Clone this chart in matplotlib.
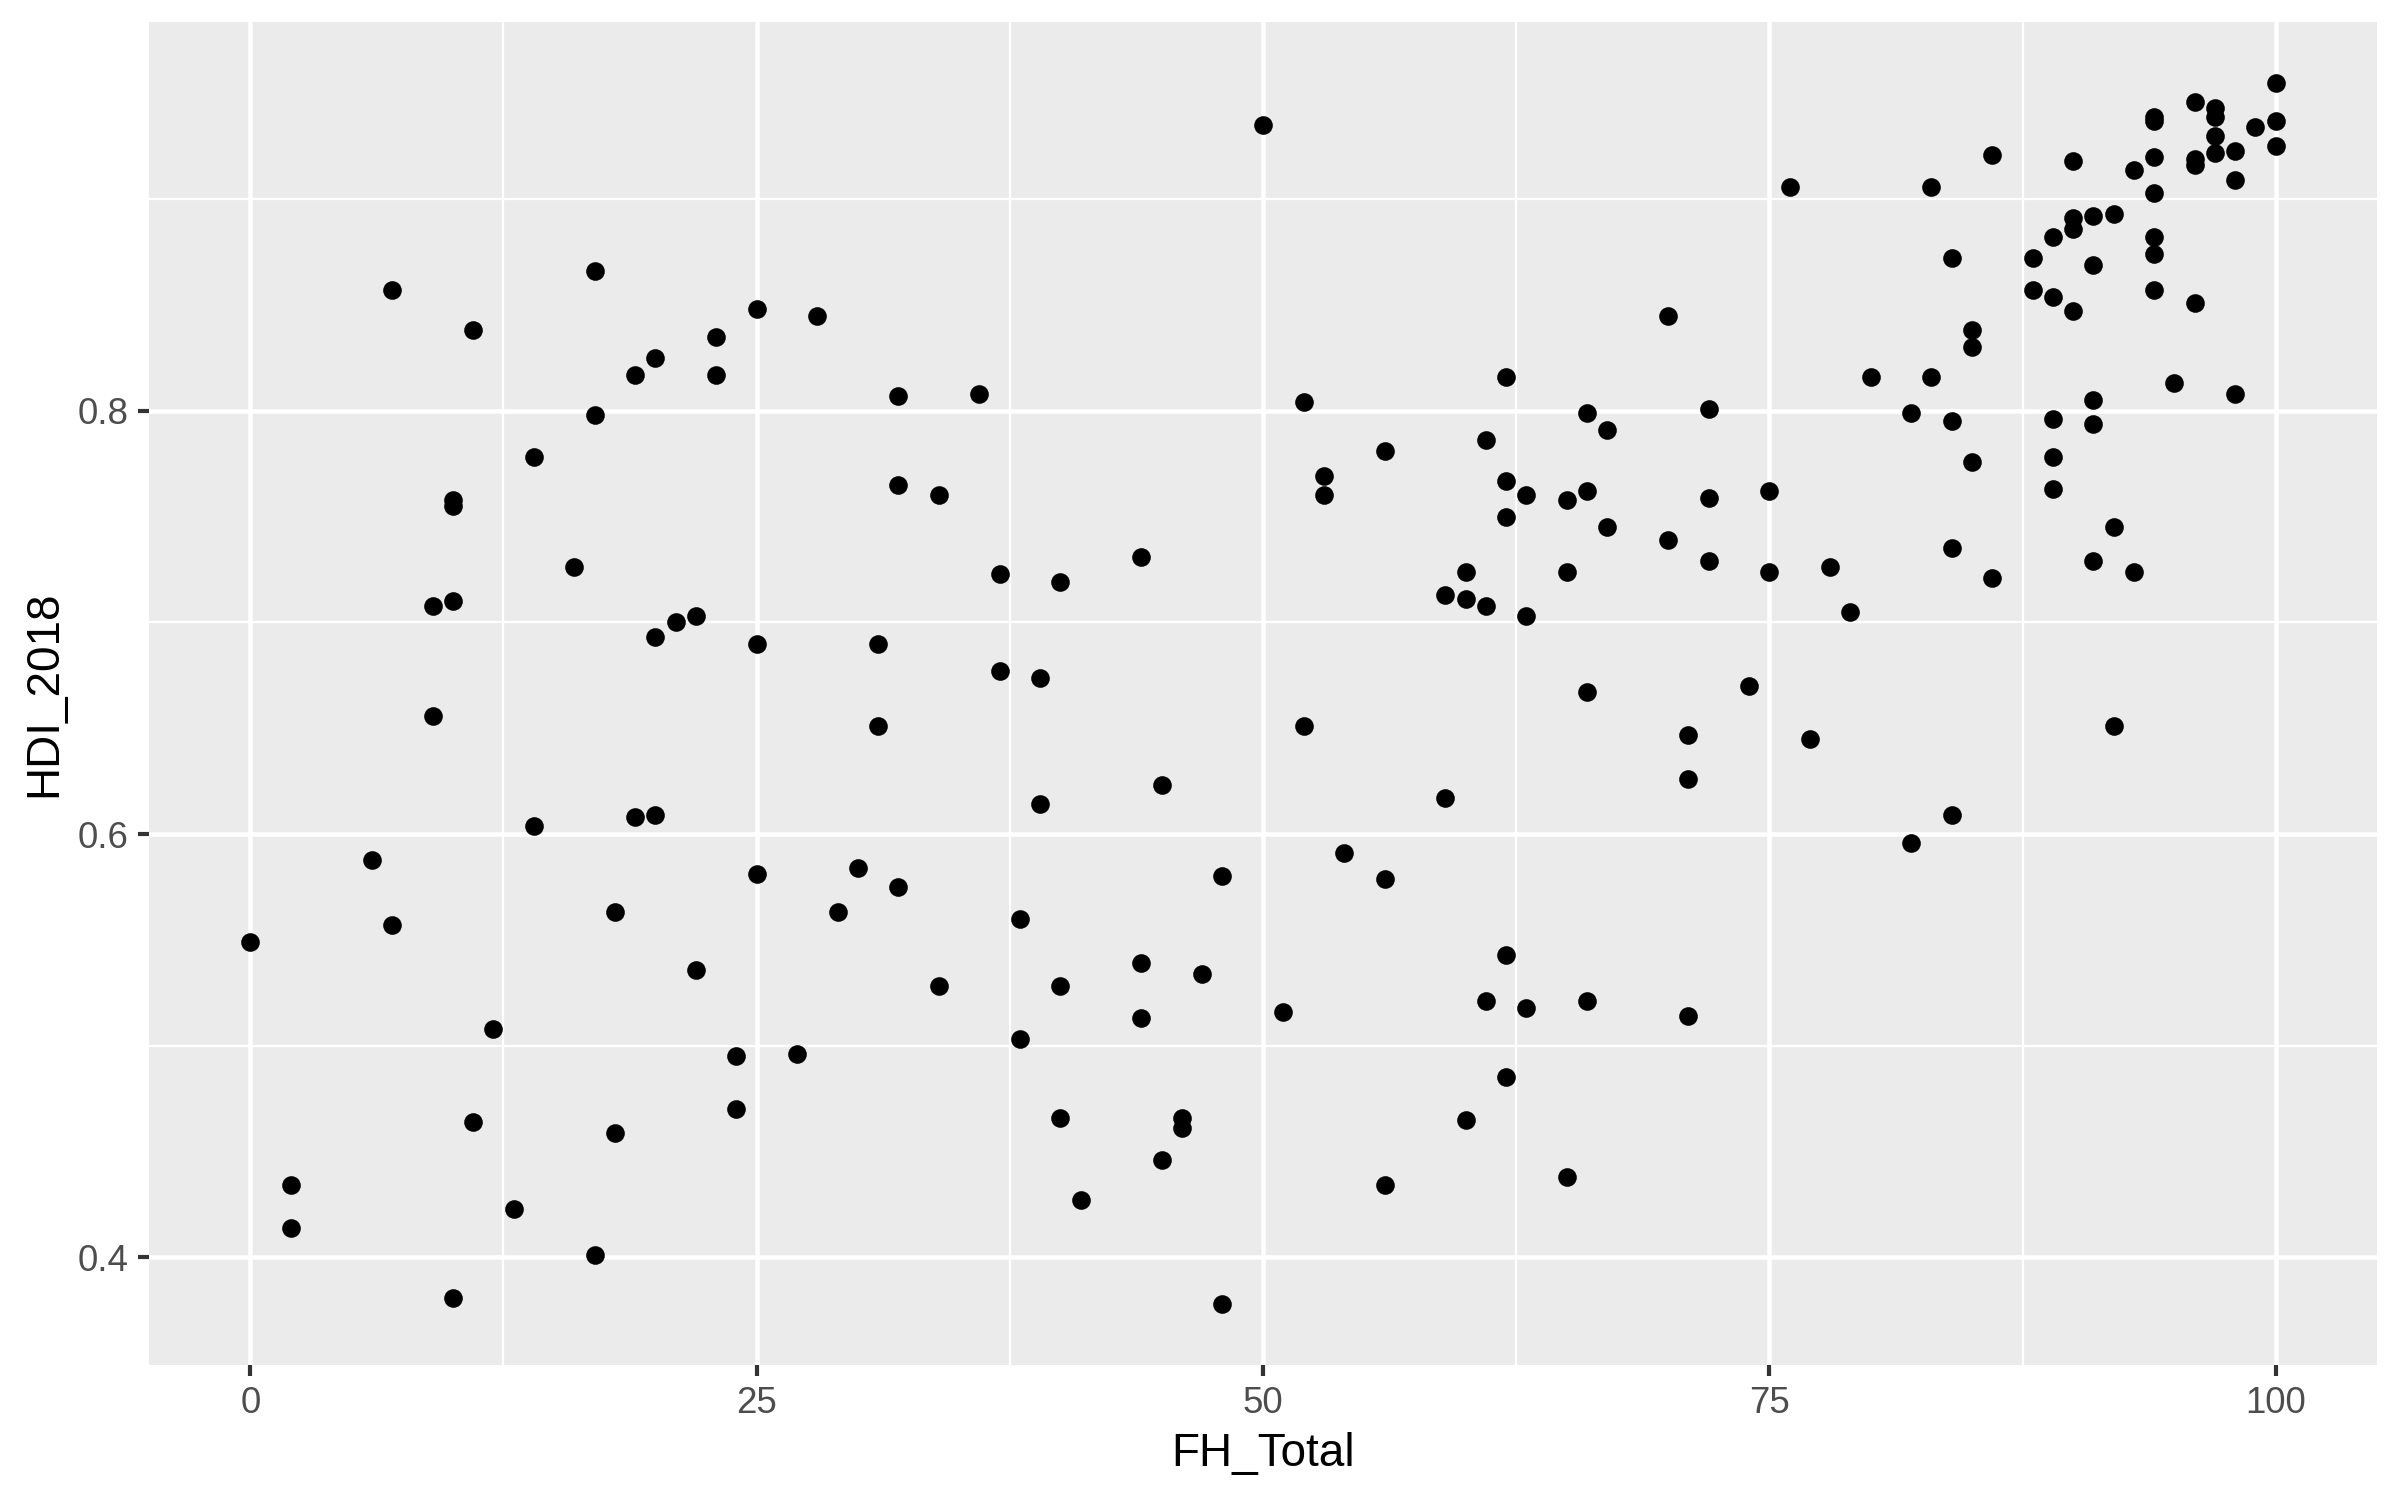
import numpy as np
import matplotlib.pyplot as plt

plt.rcParams['font.family'] = ['Liberation Sans', 'DejaVu Sans']

# FH_Total vs HDI_2018
fh_total = [0, 2, 2, 6, 7, 7, 9, 9, 10, 10, 10, 10, 11, 11, 12, 13, 14, 14, 16,
            17, 17, 17, 18, 18, 19, 19, 20, 20, 20, 21, 22, 22, 23, 23, 24, 24,
            25, 25, 25, 27, 28, 29, 30, 31, 31, 32, 32, 32, 34, 34, 36, 37, 37,
            38, 38, 39, 39, 40, 40, 40, 41, 44, 44, 44, 45, 45, 46, 46, 47, 48,
            48, 50, 51, 52, 52, 53, 53, 54, 56, 56, 56, 59, 59, 60, 60, 60, 61,
            61, 61, 62, 62, 62, 62, 62, 63, 63, 63, 65, 65, 65, 66, 66, 66, 66,
            67, 67, 70, 70, 71, 71, 71, 72, 72, 72, 74, 75, 75, 76, 77, 78, 79,
            80, 82, 82, 83, 83, 84, 84, 84, 84, 85, 85, 85, 86, 86, 88, 88, 89,
            89, 89, 89, 89, 90, 90, 90, 90, 91, 91, 91, 91, 91, 92, 92, 92, 93,
            93, 94, 94, 94, 94, 94, 94, 94, 95, 96, 96, 96, 96, 97, 97, 97, 97,
            98, 98, 98, 99, 100, 100, 100]
hdi_2018 = [0.549, 0.434, 0.414, 0.588, 0.857, 0.557, 0.708, 0.656, 0.758,
            0.755, 0.710, 0.381, 0.838, 0.464, 0.508, 0.423, 0.778, 0.604,
            0.726, 0.866, 0.798, 0.401, 0.563, 0.459, 0.817, 0.608, 0.825,
            0.693, 0.609, 0.700, 0.703, 0.536, 0.835, 0.817, 0.495, 0.470,
            0.848, 0.690, 0.581, 0.496, 0.845, 0.563, 0.584, 0.690, 0.651,
            0.807, 0.765, 0.575, 0.760, 0.528, 0.808, 0.723, 0.677, 0.560,
            0.503, 0.674, 0.614, 0.719, 0.528, 0.466, 0.427, 0.731, 0.539,
            0.513, 0.623, 0.446, 0.466, 0.461, 0.534, 0.580, 0.378, 0.935,
            0.516, 0.804, 0.651, 0.769, 0.760, 0.591, 0.781, 0.579, 0.434,
            0.713, 0.617, 0.724, 0.711, 0.465, 0.786, 0.708, 0.521, 0.816,
            0.767, 0.750, 0.543, 0.485, 0.760, 0.703, 0.518, 0.758, 0.724,
            0.438, 0.799, 0.762, 0.667, 0.521, 0.791, 0.745, 0.845, 0.739,
            0.647, 0.626, 0.514, 0.801, 0.759, 0.729, 0.670, 0.762, 0.724,
            0.906, 0.645, 0.726, 0.705, 0.816, 0.799, 0.596, 0.906, 0.816,
            0.872, 0.795, 0.735, 0.609, 0.838, 0.830, 0.776, 0.921, 0.721,
            0.872, 0.857, 0.882, 0.854, 0.796, 0.778, 0.763, 0.918, 0.891,
            0.886, 0.847, 0.892, 0.869, 0.805, 0.794, 0.729, 0.893, 0.745,
            0.651, 0.914, 0.724, 0.939, 0.937, 0.920, 0.903, 0.882, 0.874,
            0.857, 0.813, 0.946, 0.919, 0.916, 0.851, 0.943, 0.939, 0.930,
            0.922, 0.923, 0.909, 0.808, 0.934, 0.955, 0.937, 0.925]

x = np.array(fh_total)
y = np.array(hdi_2018)

fig = plt.figure(figsize=(16, 10), dpi=150)
ax = fig.add_axes([0.0621, 0.090, 0.9283, 0.8955])
ax.set_facecolor('#EBEBEB')

ax.scatter(x, y, s=80, color='black', linewidths=0, zorder=3)

# ggplot-style 5% expansion
xr = x.max() - x.min()
yr = y.max() - y.min()
ax.set_xlim(x.min() - 0.05 * xr, x.max() + 0.05 * xr)
ax.set_ylim(y.min() - 0.05 * yr, y.max() + 0.05 * yr)

ax.set_xticks([0, 25, 50, 75, 100])
ax.set_yticks([0.4, 0.6, 0.8])
ax.set_yticklabels(['0.4', '0.6', '0.8'])
ax.set_xticks([12.5, 37.5, 62.5, 87.5], minor=True)
ax.set_yticks([0.5, 0.7, 0.9], minor=True)

ax.grid(True, which='major', color='white', linewidth=2.2, zorder=0)
ax.grid(True, which='minor', color='white', linewidth=1.1, zorder=0)
ax.set_axisbelow(True)

for s in ax.spines.values():
    s.set_visible(False)

ax.tick_params(which='major', length=5.5, width=2, color='#333333',
               labelcolor='#4D4D4D', labelsize=17.6, pad=4.4)
ax.tick_params(which='minor', length=0)

ax.set_xlabel('FH_Total', fontsize=22, labelpad=5.5)
ax.set_ylabel('HDI_2018', fontsize=22, labelpad=5.5)

fig.savefig('out.png', dpi=150)
